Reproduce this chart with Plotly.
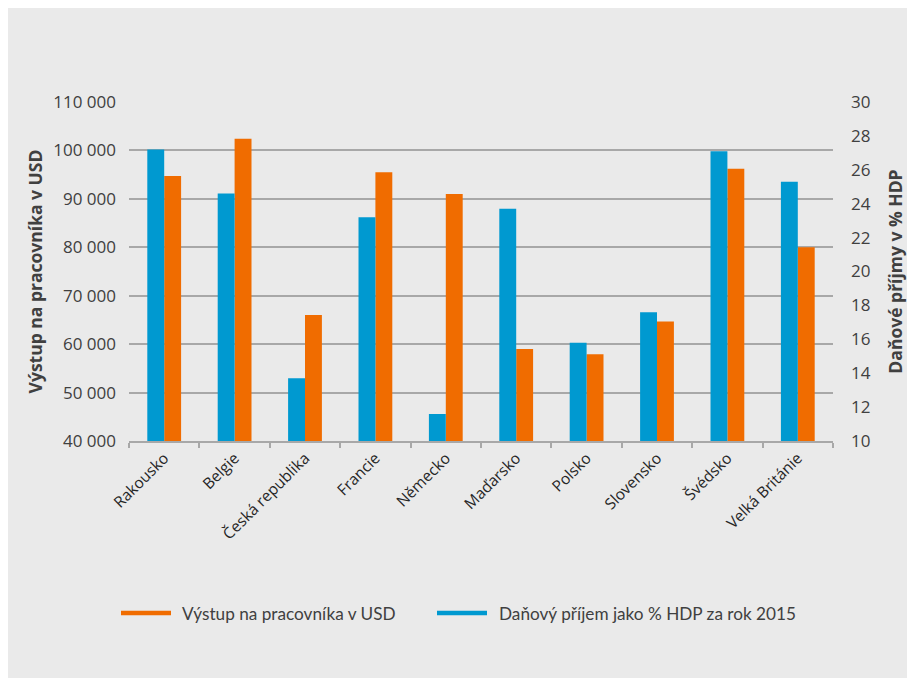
import plotly.graph_objects as go

countries = ["Rakousko", "Belgie", "Česká republika", "Francie", "Německo",
             "Maďarsko", "Polsko", "Slovensko", "Švédsko", "Velká Británie"]
vystup_usd = [94700, 102400, 66000, 95500, 91000, 59000, 57900, 64700, 96200, 80000]
dan_pct_hdp = [27.2, 24.6, 13.7, 23.2, 11.6, 23.7, 15.8, 17.6, 27.1, 25.3]

name_vystup = "Výstup na pracovníka v USD"
name_dan = "Daňový příjem jako % HDP za rok 2015"

left_ticks = [40000, 50000, 60000, 70000, 80000, 90000, 100000, 110000]
left_labels = ["40 000", "50 000", "60 000", "70 000", "80 000", "90 000", "100 000", "110 000"]
right_ticks = [10, 12, 14, 16, 18, 20, 22, 24, 26, 28, 30]

BLUE = "#0099d0"
ORANGE = "#f06c00"
TXT = "#404040"
GRID = "#a8a8a8"
BG = "#eaeaea"

W, H = 915, 678
ML, MT, PW, PH = 121, 94, 704, 339
MR = W - ML - PW
MB = H - MT - PH


def px_x(x):
    return (x - ML) / PW


def px_y(y):
    return (H - MB - y) / PH


fig = go.Figure()
fig.add_trace(go.Bar(x=countries, y=dan_pct_hdp, name=name_dan, yaxis="y2",
                     marker=dict(color=BLUE, line=dict(width=0)),
                     width=0.24, offset=-0.24, showlegend=False))
fig.add_trace(go.Bar(x=countries, y=vystup_usd, name=name_vystup, yaxis="y",
                     marker=dict(color=ORANGE, line=dict(width=0)),
                     width=0.24, offset=0.0, showlegend=False))

# Excel-style legend: line swatches + labels
legend_items = [(name_vystup, ORANGE, 113, 172), (name_dan, BLUE, 429, 489)]
ly = 605
for text, col, lx, tx in legend_items:
    fig.add_shape(type="line", xref="paper", yref="paper",
                  x0=px_x(lx), x1=px_x(lx + 50), y0=px_y(ly), y1=px_y(ly),
                  line=dict(color=col, width=4.5))
    fig.add_annotation(xref="paper", yref="paper", x=px_x(tx), y=px_y(ly),
                       xanchor="left", yanchor="middle", showarrow=False, text=text,
                       font=dict(family="Lato", size=17.2, color=TXT))

fig.update_layout(
    width=W, height=H,
    margin=dict(l=ML, r=MR, t=MT, b=MB),
    paper_bgcolor=BG, plot_bgcolor=BG,
    font=dict(family="Open Sans", size=17, color=TXT),
    barmode="overlay",
    showlegend=False,
    xaxis=dict(type="category", tickangle=-45, showgrid=False,
               showline=True, linecolor=GRID, linewidth=2,
               ticks="outside", tickson="boundaries", ticklen=5, tickcolor=GRID, tickwidth=2,
               tickfont=dict(size=15.5, color="#262626")),
    yaxis=dict(range=[40000, 110000], tickvals=left_ticks, ticktext=left_labels,
               showgrid=True, gridcolor=GRID, gridwidth=2, zeroline=False,
               ticks="", ticklabelstandoff=12,
               title=dict(text="<b>Výstup na pracovníka v USD</b>", font=dict(size=17.5, color=TXT), standoff=6)),
    yaxis2=dict(range=[10, 30], tickvals=right_ticks, overlaying="y", side="right",
                showgrid=False, zeroline=False, ticks="", ticklabelstandoff=17,
                title=dict(text="<b>Daňové příjmy v % HDP</b>", font=dict(size=17.5, color=TXT), standoff=20)),
)

fig.write_html("out.html")
